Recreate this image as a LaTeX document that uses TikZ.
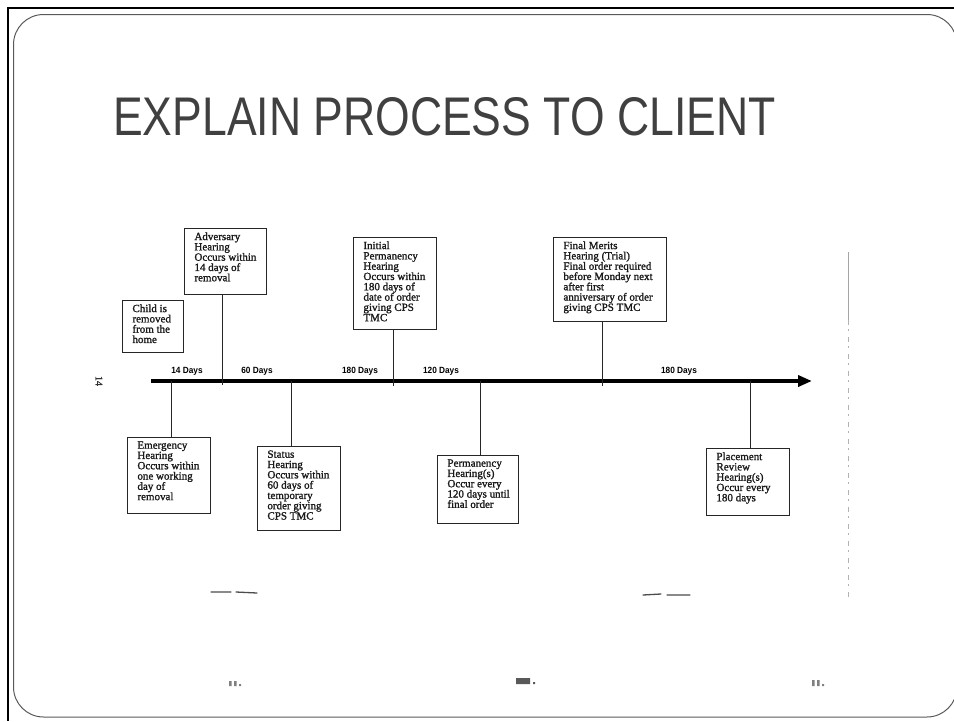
\documentclass[tikz,border=0pt]{standalone}
\usepackage{fontspec}
\setmainfont{Liberation Serif}
\newfontfamily\titlefont{Liberation Sans}
\newfontfamily\scanfont[FakeBold=1.4]{Liberation Serif}
\usetikzlibrary{arrows.meta}
\newcommand{\evtext}[3]{\parbox[c][#2pt][t]{#1pt}{\vspace*{4pt}\raggedright\setlength{\leftskip}{10pt}#3}}
\begin{document}
\begin{tikzpicture}[x=1pt,y=-1pt,
  evbox/.style={draw=black!85, line width=0.9pt, inner sep=0pt, anchor=north west,
    font=\scanfont\fontsize{11}{10.3}\selectfont, text=black!90},
  conn/.style={draw=black!85, line width=1pt},
  timeline/.style={draw=black, line width=3.6pt, -{Triangle[length=14pt,width=11pt]}},
  daylbl/.style={font=\titlefont\bfseries\fontsize{9}{9}\selectfont, anchor=base, inner sep=0pt},
  smudge/.style={draw=black!70, line width=1.3pt, line cap=round},
]
\useasboundingbox (0,0) rectangle (954,721);
% slide frame
\draw[line width=2.2pt, black] (8.3,721) -- (8.3,8.3) -- (954,8.3);
\draw[black!65, line width=1pt, rounded corners=30pt] (13.5,14.5) rectangle (957,717);
% title
\node[anchor=base west, inner sep=0pt, text=black!75] (title) at (113,135)
  {\resizebox{662pt}{38pt}{\titlefont EXPLAIN PROCESS TO CLIENT}};
% timeline
\coordinate (tl0) at (151,381);
\coordinate (tl1) at (812,381);
\draw[timeline] (tl0) -- (tl1);
% day labels
\node[daylbl] (d1) at (187,373) {\scalebox{0.92}[1]{14 Days}};
\node[daylbl] (d2) at (257,373) {\scalebox{0.92}[1]{60 Days}};
\node[daylbl] (d3) at (360,373) {\scalebox{0.92}[1]{180 Days}};
\node[daylbl] (d4) at (441,373) {\scalebox{0.92}[1]{120 Days}};
\node[daylbl] (d5) at (679,373) {\scalebox{0.92}[1]{180 Days}};
% boxes above
\node[evbox] (child) at (122,300) {\evtext{61}{52}{Child is\\removed\\from the\\home}};
\node[evbox] (adv) at (184,228) {\evtext{82}{66}{Adversary\\Hearing\\Occurs within\\14 days of\\removal}};
\node[evbox] (ini) at (353,237) {\evtext{83}{92}{Initial\\Permanency\\Hearing\\Occurs within\\180 days of\\date of order\\giving CPS\\TMC}};
\node[evbox] (fin) at (553,237) {\evtext{113}{84}{Final Merits\\Hearing (Trial)\\Final order required\\before Monday next\\after first\\anniversary of order\\giving CPS TMC}};
% boxes below
\node[evbox] (emg) at (127,437) {\evtext{83}{76}{Emergency\\Hearing\\Occurs within\\one working\\day of\\removal}};
\node[evbox] (sta) at (257,446) {\evtext{83}{84}{Status\\Hearing\\Occurs within\\60 days of\\temporary\\order giving\\CPS TMC}};
\node[evbox] (per) at (437,455) {\evtext{81}{68}{Permanency\\Hearing(s)\\Occur every\\120 days until\\final order}};
\node[evbox] (pla) at (706,448) {\evtext{83}{67}{Placement\\Review\\Hearing(s)\\Occur every\\180 days}};
% connector points on the timeline
\coordinate (t-adv) at (222,385);
\coordinate (t-ini) at (393,386);
\coordinate (t-fin) at (602,386);
\coordinate (t-emg) at (171,381);
\coordinate (t-sta) at (291,381);
\coordinate (t-per) at (480,381);
\coordinate (t-pla) at (750,381);
\draw[conn] (t-adv |- adv.south) -- (t-adv);
\draw[conn] (t-ini |- ini.south) -- (t-ini);
\draw[conn] (t-fin |- fin.south) -- (t-fin);
\draw[conn] (t-emg) -- (t-emg |- emg.north);
\draw[conn] (t-sta) -- (t-sta |- sta.north);
\draw[conn] (t-per) -- (t-per |- per.north);
\draw[conn] (t-pla) -- (t-pla |- pla.north);
% scan marks
\node[rotate=-90, font=\scanfont\fontsize{10}{10}\selectfont, text=black!80, inner sep=0pt] (pg) at (99,381) {14};
\draw[smudge] (211,592) -- (231,592) (236,592) -- (257,593);
\draw[smudge] (643,595) -- (661,594) (667,595) -- (690,595);
\draw[black!30, line width=0.7pt, dash pattern=on 5pt off 4pt on 2pt off 6pt] (848,252) -- (848,600);
\draw[black!35, line width=0.8pt] (848,252) -- (848,320);
\fill[black!50] (229,681) rectangle (231.5,686) (234,681) rectangle (236.5,686) (239,684) rectangle (241,686);
\fill[black!65] (516,678) rectangle (530,684) (533,682) rectangle (535,684);
\fill[black!50] (812,680) rectangle (814.5,686) (817,680) rectangle (819.5,686) (822,684) rectangle (824,686);
\end{tikzpicture}
\end{document}
